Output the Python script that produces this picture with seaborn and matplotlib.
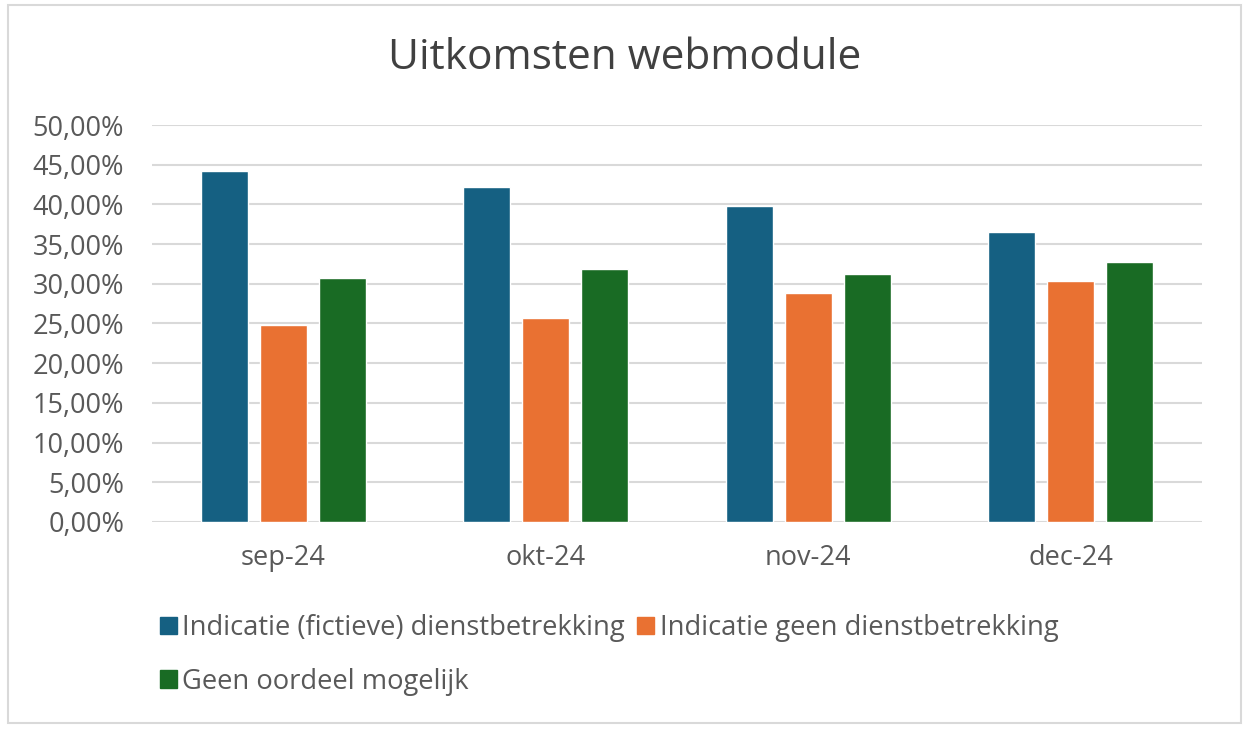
import pandas as pd
import matplotlib.pyplot as plt
import seaborn as sns
from matplotlib.patches import Rectangle
from matplotlib.ticker import FuncFormatter, MultipleLocator

months = ["sep-24", "okt-24", "nov-24", "dec-24"]
series = ["Indicatie (fictieve) dienstbetrekking",
          "Indicatie geen dienstbetrekking",
          "Geen oordeel mogelijk"]
fictief = [0.442, 0.4225, 0.3985, 0.3655]
geen_dienst = [0.248, 0.257, 0.288, 0.3035]
geen_oordeel = [0.3067, 0.319, 0.3126, 0.328]
colors = ["#156082", "#E97132", "#196B24"]

df = pd.DataFrame({
    "maand": months * 3,
    "uitkomst": [series[0]] * 4 + [series[1]] * 4 + [series[2]] * 4,
    "waarde": fictief + geen_dienst + geen_oordeel,
})

sns.set_style("white")
plt.rcParams['font.family'] = ['Open Sans', 'DejaVu Sans']
text_color = "#595959"

fig = plt.figure(figsize=(12.5, 7.32), dpi=100)
ax = fig.add_axes([152 / 1250, 1 - 522 / 732, 1050 / 1250, 397 / 732])

sns.barplot(data=df, x="maand", y="waarde", hue="uitkomst", order=months,
            hue_order=series, palette=colors, width=0.674, gap=0.2,
            saturation=1, ax=ax, legend=False)

ax.set_ylim(0, 0.5)
ax.set_xlim(-0.5, 3.5)
ax.yaxis.set_major_locator(MultipleLocator(0.05))
ax.yaxis.set_major_formatter(FuncFormatter(lambda v, p: f"{v * 100:.2f}%".replace(".", ",")))
ax.grid(axis="y", color="#D9D9D9", linewidth=1.5)
ax.set_axisbelow(True)
for s in ax.spines.values():
    s.set_visible(False)
ax.tick_params(axis="y", length=0, pad=20, labelsize=19.5, labelcolor=text_color)
ax.tick_params(axis="x", length=0, pad=16, labelsize=19.5, labelcolor=text_color)
ax.set_xlabel("")
ax.set_ylabel("")

fig.text(0.5, 1 - 58 / 732, "Uitkomsten webmodule", ha="center", va="center",
         fontsize=30.5, color="#404040")

# legend: blue + orange on first row, green on second
handles = [Rectangle((0, 0), 1, 1, color=c) for c in colors]
order = [0, 2, 1]
fig.legend([handles[i] for i in order], [series[i] for i in order],
           ncol=2, loc="upper left", bbox_to_anchor=(160 / 1250, 1 - 614 / 732),
           frameon=False, fontsize=19.7, labelcolor=text_color,
           borderpad=0, borderaxespad=0,
           handlelength=0.62, handleheight=0.62, handletextpad=0.2,
           columnspacing=0.45, labelspacing=0.95)

fig.add_artist(Rectangle((8 / 1250, 1 - 723 / 732), 1233 / 1250, 718 / 732,
                         transform=fig.transFigure, fill=False,
                         edgecolor="#D9D9D9", linewidth=1.5))

plt.savefig("out.png", dpi=100)
